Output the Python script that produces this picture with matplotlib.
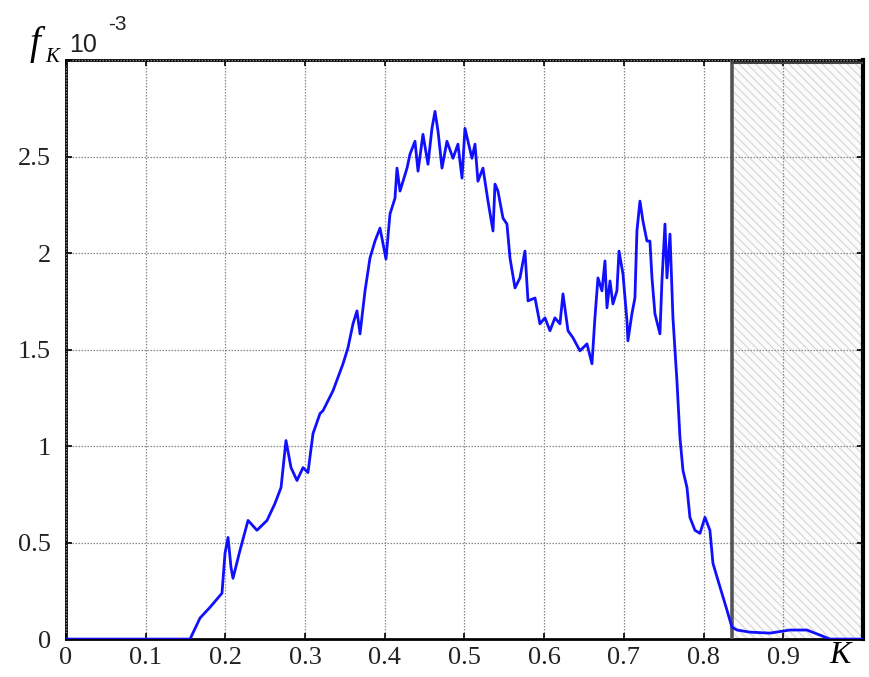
import matplotlib
matplotlib.use("Agg")
import matplotlib.pyplot as plt
from matplotlib.patches import Rectangle

# Curve f_K (in units of 1e-3) versus K
k_vals = [0.0, 0.1556, 0.1681, 0.1807, 0.1957, 0.1995, 0.2033, 0.2070, 0.2095, 0.2183,
          0.2284, 0.2396, 0.2522, 0.2622, 0.2698, 0.2760, 0.2823, 0.2898, 0.2974, 0.3036,
          0.3099, 0.3187, 0.3225, 0.3350, 0.3476, 0.3538, 0.3601, 0.3651, 0.3689, 0.3752,
          0.3814, 0.3877, 0.3940, 0.4015, 0.4065, 0.4128, 0.4153, 0.4191, 0.4279, 0.4316,
          0.4379, 0.4417, 0.4479, 0.4542, 0.4592, 0.4630, 0.4668, 0.4718, 0.4780, 0.4856,
          0.4918, 0.4969, 0.5006, 0.5044, 0.5094, 0.5132, 0.5169, 0.5232, 0.5295, 0.5358,
          0.5383, 0.5420, 0.5483, 0.5533, 0.5571, 0.5634, 0.5696, 0.5759, 0.5797, 0.5885,
          0.5947, 0.6010, 0.6073, 0.6135, 0.6198, 0.6236, 0.6299, 0.6361, 0.6449, 0.6537,
          0.6600, 0.6637, 0.6675, 0.6725, 0.6763, 0.6788, 0.6826, 0.6863, 0.6913, 0.6939,
          0.6989, 0.7039, 0.7051, 0.7101, 0.7139, 0.7164, 0.7202, 0.7240, 0.7290, 0.7327,
          0.7353, 0.7390, 0.7453, 0.7478, 0.7516, 0.7541, 0.7579, 0.7616, 0.7666, 0.7704,
          0.7742, 0.7792, 0.7829, 0.7892, 0.7955, 0.8018, 0.8080, 0.8118, 0.8181, 0.8294,
          0.8356, 0.8419, 0.8582, 0.8833, 0.9084, 0.9297, 0.9460, 0.9586, 1.0]
f_vals = [0.0, 0.0, 0.109, 0.165, 0.238, 0.445, 0.527, 0.372, 0.315, 0.460,
          0.615, 0.564, 0.615, 0.703, 0.786, 1.029, 0.889, 0.822, 0.889, 0.863,
          1.065, 1.169, 1.184, 1.287, 1.427, 1.510, 1.634, 1.701, 1.582, 1.805,
          1.975, 2.063, 2.130, 1.970, 2.203, 2.285, 2.441, 2.322, 2.441, 2.513,
          2.580, 2.425, 2.616, 2.461, 2.647, 2.735, 2.632, 2.441, 2.580, 2.492,
          2.565, 2.389, 2.647, 2.580, 2.492, 2.565, 2.373, 2.441, 2.270, 2.115,
          2.358, 2.322, 2.182, 2.151, 1.975, 1.820, 1.872, 2.011, 1.753, 1.768,
          1.634, 1.665, 1.598, 1.665, 1.634, 1.789, 1.598, 1.562, 1.494, 1.530,
          1.427, 1.665, 1.872, 1.805, 1.960, 1.717, 1.856, 1.737, 1.805, 2.011,
          1.892, 1.649, 1.546, 1.686, 1.768, 2.115, 2.270, 2.166, 2.063, 2.063,
          1.872, 1.686, 1.582, 1.856, 2.151, 1.872, 2.099, 1.665, 1.339, 1.044,
          0.874, 0.786, 0.631, 0.564, 0.548, 0.631, 0.564, 0.393, 0.305, 0.150,
          0.062, 0.047, 0.036, 0.031, 0.047, 0.047, 0.021, 0.0, 0.0]

x_ticks = [0.0, 0.1, 0.2, 0.3, 0.4, 0.5, 0.6, 0.7, 0.8, 0.9, 1.0]
x_labels = ["0", "0.1", "0.2", "0.3", "0.4", "0.5", "0.6", "0.7", "0.8", "0.9", ""]
y_ticks = [0.0, 0.5, 1.0, 1.5, 2.0, 2.5, 3.0]
y_labels = ["0", "0.5", "1", "1.5", "2", "2.5", ""]
shade_start = 0.836

serif = "Liberation Serif"

fig = plt.figure(figsize=(8.69, 6.77), dpi=100)
ax = fig.add_axes([0.076, 0.056, 0.917, 0.855])

ax.set_xlim(0, 1.0)
ax.set_ylim(0, 3.0)

# shaded region
rect = Rectangle((shade_start, 0), 1.0 - shade_start, 2.985, facecolor="#fcfcfc",
                 edgecolor="#dcdcdc", hatch="\\\\\\\\", linewidth=0, zorder=1)
ax.add_patch(rect)
ax.plot([shade_start, shade_start], [0, 2.985], color="#555555", lw=2.6, zorder=3)
ax.plot([shade_start, 1.0], [2.985, 2.985], color="#444444", lw=1.5, zorder=3)

ax.plot(k_vals, f_vals, color="#1010ff", lw=2.0, zorder=4)

ax.set_xticks(x_ticks)
ax.set_xticklabels(x_labels)
ax.set_yticks(y_ticks)
ax.set_yticklabels(y_labels)
ax.grid(True, color="#8a8a8a", linestyle=(0, (1.2, 1.2)), linewidth=0.9, zorder=2)
ax.set_axisbelow(False)

ax.tick_params(axis="both", direction="in", length=4, width=1.2, top=True, right=True,
               labelsize=19, colors="black")
ax.tick_params(axis="x", pad=6)
ax.tick_params(axis="y", pad=11)
for lab in ax.get_xticklabels() + ax.get_yticklabels():
    lab.set_fontfamily(serif)
    lab.set_color("#222222")

for s in ax.spines.values():
    s.set_linewidth(2.0)
    s.set_color("black")
ax.spines["right"].set_linewidth(3.0)

# axis labels
fig.text(0.034, 0.935, "f", fontsize=28, family=serif, style="italic", ha="left", va="center")
fig.text(0.052, 0.915, "K", fontsize=15, family=serif, style="italic", ha="left", va="center")
fig.text(0.080, 0.934, "10", fontsize=18, family="Liberation Sans", ha="left", va="center", color="#222222")
fig.text(0.124, 0.964, "-3", fontsize=15, family="Liberation Sans", ha="left", va="center", color="#222222")
fig.text(0.967, 0.032, "K", fontsize=23, family=serif, style="italic", ha="center", va="center")

fig.savefig("out.png", dpi=100)
